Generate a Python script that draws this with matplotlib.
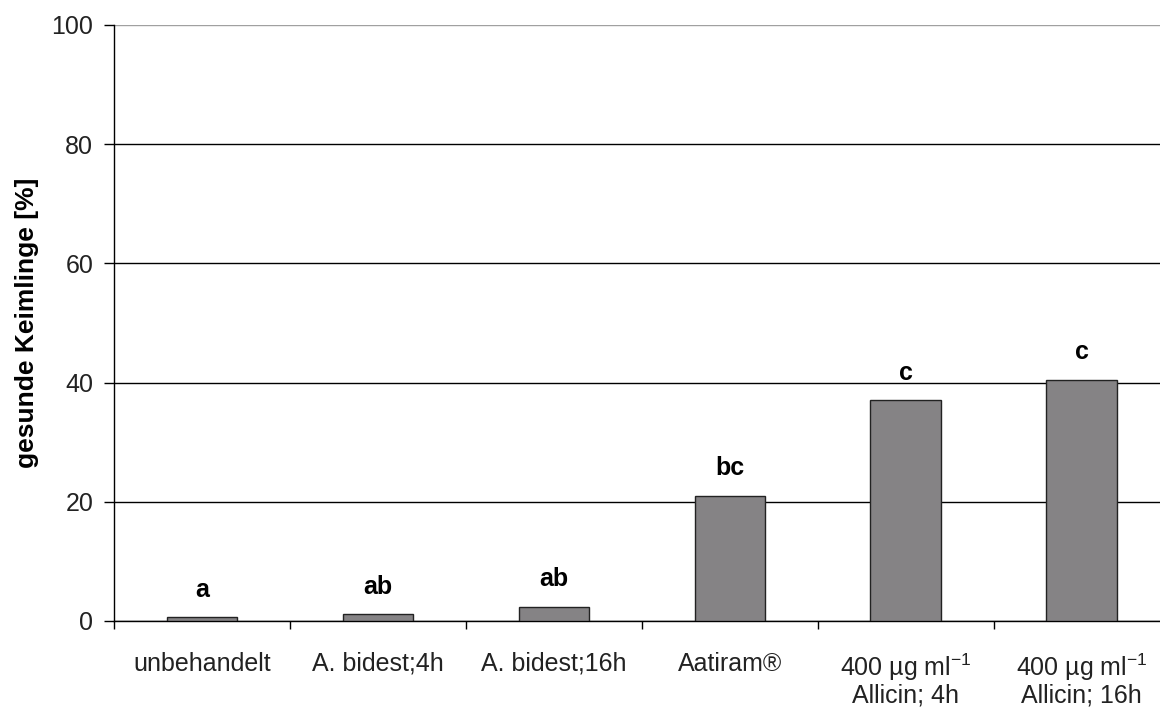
import matplotlib
matplotlib.use("Agg")
import matplotlib.pyplot as plt
import numpy as np

categories = ["unbehandelt", "A. bidest;4h", "A. bidest;16h", "Aatiram®",
              "400 µg ml$^{-1}$\nAllicin; 4h", "400 µg ml$^{-1}$\nAllicin; 16h"]
values = [0.6, 1.1, 2.3, 21.0, 37.0, 40.4]
letters = ["a", "ab", "ab", "bc", "c", "c"]
yticks = [0, 20, 40, 60, 80, 100]

plt.rcParams['font.family'] = ['Liberation Sans', 'DejaVu Sans']
plt.rcParams['mathtext.fontset'] = 'custom'
plt.rcParams['mathtext.rm'] = 'Liberation Sans'
plt.rcParams['mathtext.it'] = 'Liberation Sans'

fig = plt.figure(figsize=(11.6, 7.11), dpi=100)
W, H = 1160, 711
left, right, top, bottom = 114, 1169.5, 25, 621
ax = fig.add_axes([left / W, 1 - bottom / H, (right - left) / W, (bottom - top) / H])

x = np.arange(len(categories))
ax.bar(x, values, width=0.4, color='#858385', edgecolor='#222222', linewidth=1.0, zorder=3)

ax.set_xlim(-0.5, len(categories) - 0.5)
ax.set_ylim(0, 100)
ax.set_yticks(yticks)
ax.set_yticklabels([str(v) for v in yticks], fontsize=18, color='#222222')
ax.set_xticks(x)
ax.set_xticklabels(categories, fontsize=18, color='#222222', linespacing=1.05)
ax.set_xticks(np.arange(len(categories) + 1) - 0.5, minor=True)
ax.tick_params(axis='x', which='major', length=0, pad=22)
ax.tick_params(axis='x', which='minor', length=6, width=1, direction='out', color='black')
ax.tick_params(axis='y', which='major', length=7, width=1, direction='out', color='black', pad=8)

ax.yaxis.grid(True, color='black', linewidth=1, zorder=0)
ax.get_ygridlines()[-1].set_color('#a0a0a0')
ax.set_axisbelow(True)

for s in ['top', 'right']:
    ax.spines[s].set_visible(False)
ax.spines['left'].set_linewidth(1)
ax.spines['bottom'].set_linewidth(1)

for xi, v, lab in zip(x, values, letters):
    ax.annotate(lab, (xi, v), xytext=(0, 15), textcoords='offset points',
                ha='center', va='baseline', fontsize=18, fontweight='bold')

ax.set_ylabel("gesunde Keimlinge [%]", fontsize=19, fontweight='bold', labelpad=9)

fig.savefig("out.png", dpi=100)
